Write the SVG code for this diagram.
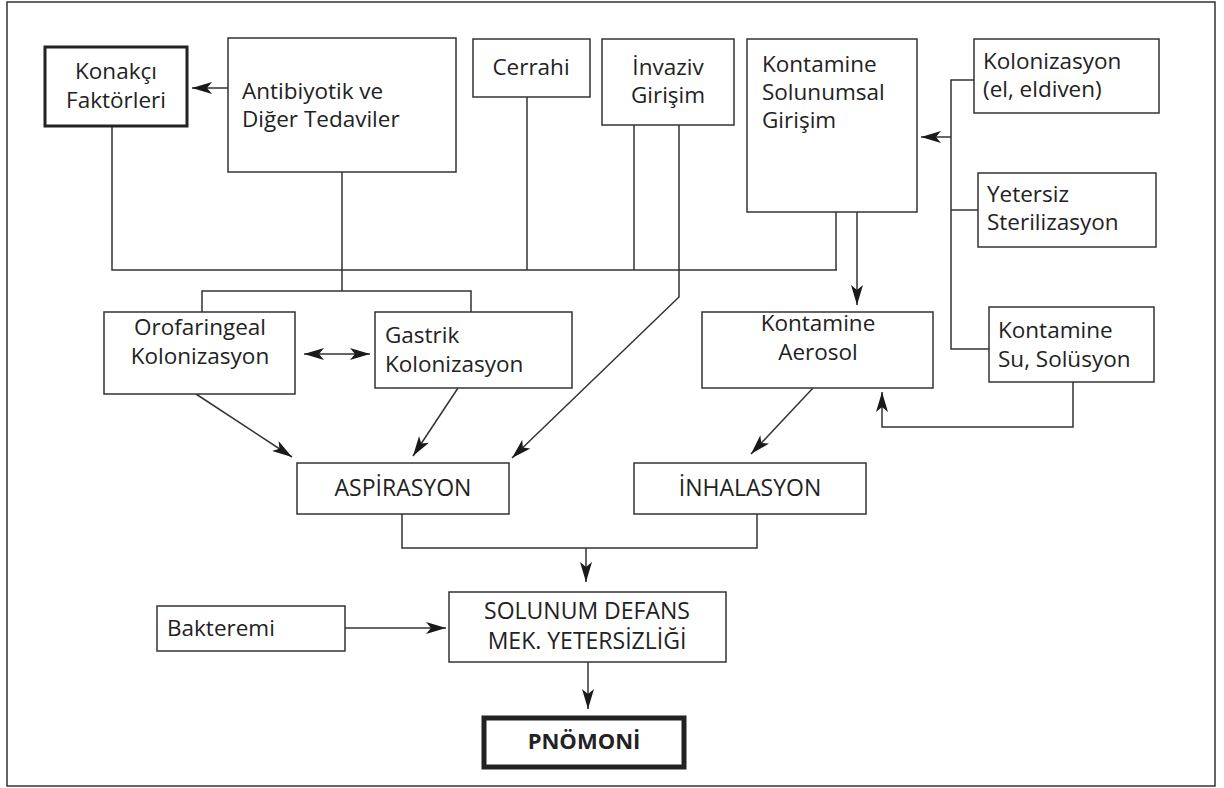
<svg xmlns="http://www.w3.org/2000/svg" width="1224" height="788" viewBox="0 0 1224 788">
<defs>
<marker id="ah" viewBox="0 0 20 12" refX="20" refY="6" markerWidth="20" markerHeight="12" markerUnits="userSpaceOnUse" orient="auto-start-reverse">
<path d="M0,0 L20,6 L0,12 L5,6 Z" fill="#1a1a1a"/>
</marker>
<style>
.b{fill:#fff;stroke:#333;stroke-width:1.5}
.tb{fill:#fff;stroke:#222;stroke-width:3}
.pb{fill:#fff;stroke:#222;stroke-width:5}
.c{fill:none;stroke:#333;stroke-width:1.5}
.a{fill:none;stroke:#333;stroke-width:1.5;marker-end:url(#ah)}
text{font-family:"Open Sans","Liberation Sans",sans-serif;font-size:22.5px;fill:#222}
.m{text-anchor:middle}
.cap{font-size:23px}
.bold{font-weight:bold;font-size:22px}
</style>
</defs>
<rect x="7" y="2" width="1208" height="784" fill="#fff" stroke="#333" stroke-width="1.5"/>
<g id="connectors">
<line class="a" x1="228" y1="88" x2="192" y2="88"/>
<polyline class="c" points="112,127 112,270 837,270"/>
<line class="c" x1="527" y1="97" x2="527" y2="270"/>
<line class="c" x1="634" y1="125" x2="634" y2="270"/>
<line class="c" x1="836" y1="212" x2="836" y2="270"/>
<line class="c" x1="342" y1="172" x2="342" y2="291"/>
<polyline class="c" points="202,312 202,291 471,291 471,312"/>
<polyline class="a" points="679,125 679,297 512,458"/>
<line class="a" x1="857" y1="212" x2="857" y2="305"/>
<polyline class="c" points="974,80 951,80 951,349 989,349"/>
<line class="c" x1="951" y1="210" x2="978" y2="210"/>
<line class="a" x1="951" y1="137" x2="921" y2="137"/>
<polyline class="a" points="1073,382 1073,427 882,427 882,392"/>
<line class="a" x1="304" y1="354" x2="370" y2="354" style="marker-start:url(#ah)"/>
<line class="a" x1="196" y1="394" x2="292" y2="457"/>
<line class="a" x1="458" y1="388" x2="413" y2="456"/>
<line class="a" x1="813" y1="388" x2="751" y2="454"/>
<polyline class="c" points="402,514 402,548 757,548 757,514"/>
<line class="a" x1="586" y1="548" x2="586" y2="582"/>
<line class="a" x1="345" y1="628" x2="446" y2="628"/>
<line class="a" x1="588" y1="662" x2="588" y2="709"/>
</g>
<g id="konakci"><rect class="tb" x="45" y="47" width="142" height="79"/><text class="m" x="116" y="79">Konakçı</text><text class="m" x="116" y="108">Faktörleri</text></g>
<g id="antibiyotik"><rect class="b" x="228" y="38" width="228" height="134"/><text x="242" y="99">Antibiyotik ve</text><text x="242" y="127">Diğer Tedaviler</text></g>
<g id="cerrahi"><rect class="b" x="473" y="39" width="117" height="58"/><text class="m" x="531" y="75">Cerrahi</text></g>
<g id="invaziv"><rect class="b" x="602" y="39" width="132" height="86"/><text class="m" x="668" y="75">İnvaziv</text><text class="m" x="668" y="103">Girişim</text></g>
<g id="solunumsal"><rect class="b" x="747" y="39" width="170" height="173"/><text x="762" y="72">Kontamine</text><text x="762" y="100">Solunumsal</text><text x="762" y="128">Girişim</text></g>
<g id="kolonizasyon-el"><rect class="b" x="974" y="39" width="185" height="74"/><text x="983" y="69">Kolonizasyon</text><text x="983" y="97">(el, eldiven)</text></g>
<g id="yetersiz"><rect class="b" x="978" y="173" width="178" height="74"/><text x="987" y="202">Yetersiz</text><text x="987" y="230">Sterilizasyon</text></g>
<g id="kontamine-su"><rect class="b" x="989" y="307" width="165" height="75"/><text x="998" y="338">Kontamine</text><text x="998" y="367">Su, Solüsyon</text></g>
<g id="aerosol"><rect class="b" x="702" y="312" width="231" height="76"/><text class="m" x="818" y="331">Kontamine</text><text class="m" x="818" y="360">Aerosol</text></g>
<g id="orofaringeal"><rect class="b" x="104" y="312" width="191" height="82"/><text class="m" x="200" y="335">Orofaringeal</text><text class="m" x="200" y="364">Kolonizasyon</text></g>
<g id="gastrik"><rect class="b" x="375" y="312" width="197" height="76"/><text x="385" y="343">Gastrik</text><text x="385" y="372">Kolonizasyon</text></g>
<g id="aspirasyon"><rect class="b" x="297" y="463" width="212" height="51"/><text class="m cap" x="403" y="496">ASPİRASYON</text></g>
<g id="inhalasyon"><rect class="b" x="634" y="463" width="232" height="51"/><text class="m cap" x="750" y="496">İNHALASYON</text></g>
<g id="solunum-defans"><rect class="b" x="449" y="592" width="277" height="70"/><text class="m cap" x="587" y="619">SOLUNUM DEFANS</text><text class="m cap" x="587" y="649">MEK. YETERSİZLİĞİ</text></g>
<g id="bakteremi"><rect class="b" x="157" y="606" width="188" height="45"/><text x="167" y="636">Bakteremi</text></g>
<g id="pnomoni"><rect class="pb" x="484" y="718" width="200" height="49"/><text class="m bold" x="584" y="749">PNÖMONİ</text></g>
</svg>
